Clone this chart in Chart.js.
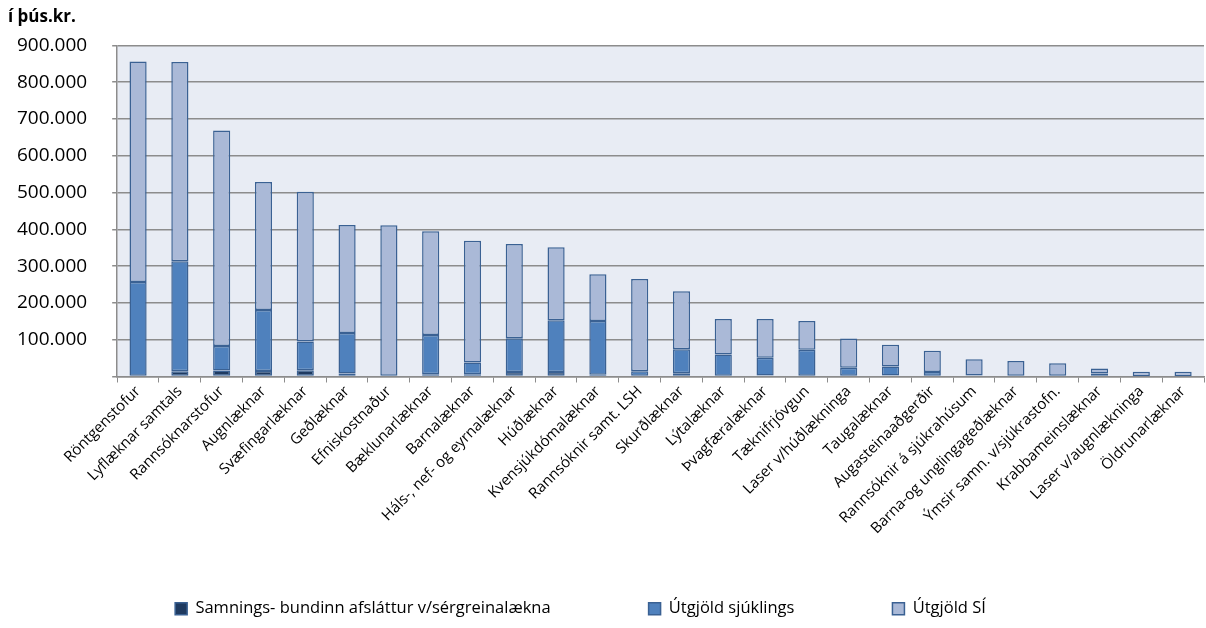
<!DOCTYPE html>
<html lang="is">
<head>
<meta charset="utf-8">
<title>Útgjöld eftir sérgreinum</title>
<script src="https://cdn.jsdelivr.net/npm/chart.js@4.4.1/dist/chart.umd.min.js"></script>
<style>
  html, body { margin: 0; padding: 0; background: #fff; }
  #wrap { width: 1206px; height: 628px; position: relative; }
</style>
</head>
<body>
<div id="wrap"><canvas id="costChart"></canvas></div>
<script>
// categories, in the order they appear on the x axis
const categories = [
  'Röntgenstofur', 'Lyflæknar samtals', 'Rannsóknarstofur', 'Augnlæknar',
  'Svæfingarlæknar', 'Geðlæknar', 'Efniskostnaður', 'Bæklunarlæknar',
  'Barnalæknar', 'Háls-, nef- og eyrnalæknar', 'Húðlæknar', 'Kvensjúkdómalæknar',
  'Rannsóknir samt. LSH', 'Skurðlæknar', 'Lýtalæknar', 'Þvagfæralæknar',
  'Tæknifrjóvgun', 'Laser v/húðlækninga', 'Taugalæknar', 'Augasteinaaðgerðir',
  'Rannsóknir á sjúkrahúsum', 'Barna-og unglingageðlæknar', 'Ýmsir samn. v/sjúkrastofn.',
  'Krabbameinslæknar', 'Laser v/augnlækninga', 'Öldrunarlæknar'
];

// series values (þús.kr.)
const afslattur = [0, 14000, 16000, 15000, 17000, 8000, 0, 6000, 6000, 12000, 12000, 5000, 0,
  9000, 2000, 3000, 0, 0, 3000, 0, 0, 0, 0, 0, 0, 0];
const sjuklingur = [257000, 299000, 67000, 166000, 78000, 110000, 0, 107000, 32000, 92000, 141000, 146000, 14000,
  65000, 58000, 48000, 73000, 24000, 24000, 12000, 3000, 2000, 0, 8000, 1000, 1000];
const sjukratr = [599000, 542000, 586000, 348000, 407000, 294000, 411000, 282000, 331000, 256000, 198000, 127000, 251000,
  158000, 96000, 105000, 78000, 79000, 59000, 58000, 44000, 40000, 36000, 14000, 12000, 12000];

const seriesNames = ['Samnings- bundinn afsláttur v/sérgreinalækna', 'Útgjöld sjúklings', 'Útgjöld SÍ'];

// y axis
const yMax = 900000;
const yStep = 100000;

(function () {
  'use strict';

  const FONT = "'Open Sans', 'Noto Sans', sans-serif";
  const LEGEND_PAD = 98;   // horizontal gap between legend items
  const LEGEND_TRIM = 35;  // height labels.padding adds that we don't want

  // thousands separator with a dot, blank at zero
  function fmt(v) {
    if (v === 0) return '';
    return String(v).replace(/\B(?=(\d{3})+(?!\d))/g, '.');
  }

  // light plot background like the spreadsheet chart
  const plotBg = {
    id: 'plotBg',
    beforeDraw(chart) {
      const { ctx, chartArea: a } = chart;
      ctx.save();
      ctx.fillStyle = '#E8ECF4';
      ctx.fillRect(a.left, a.top, a.right - a.left, a.bottom - a.top);
      ctx.restore();
    }
  };

  // wide gaps between legend items, without the extra vertical room
  // that labels.padding also reserves; legend also sits left of centre.
  // title is pulled back to the page edge (layout padding is for the y labels)
  const boxFix = {
    id: 'boxFix',
    beforeLayout(chart) {
      const lg = chart.legend;
      if (!lg || lg._trimmed) return;
      const fit = lg.fit;
      lg.fit = function () {
        fit.call(this);
        this.height -= LEGEND_TRIM;
      };
      lg._trimmed = true;
    },
    afterLayout(chart) {
      const lg = chart.legend;
      if (lg) {
        lg.top -= LEGEND_TRIM;   // bottom stays, the legend clips to its box
        lg.left -= 30;
        lg.right -= 30;
      }
      const tb = chart.titleBlock;
      if (tb) {
        tb.left -= 9;
        tb.right -= 9;
      }
    }
  };

  function ds(label, data, fill) {
    return {
      label: label,
      data: data,
      backgroundColor: fill,
      borderColor: '#3A6193',
      borderWidth: 1.5,
      borderSkipped: false,
      categoryPercentage: 1,
      barPercentage: 0.41
    };
  }

  new Chart(document.getElementById('costChart').getContext('2d'), {
    type: 'bar',
    data: {
      labels: categories,
      datasets: [
        ds(seriesNames[0], afslattur, '#1F3A60'),
        ds(seriesNames[1], sjuklingur, '#4F81BD'),
        ds(seriesNames[2], sjukratr, '#AAB9D7')
      ]
    },
    options: {
      responsive: true,
      maintainAspectRatio: false,
      animation: false,
      layout: { padding: { left: 17, right: 2, top: 4, bottom: 1 } },
      plugins: {
        title: {
          display: true,
          text: 'í þús.kr.',
          align: 'start',
          color: '#000',
          font: { family: FONT, size: 17, weight: 'bold' },
          padding: { top: 3, bottom: 18 }
        },
        legend: {
          position: 'bottom',
          labels: {
            color: '#000',
            font: { family: FONT, size: 16.5 },
            boxWidth: 12,
            boxHeight: 12,
            padding: LEGEND_PAD
          }
        },
        tooltip: { enabled: false }
      },
      scales: {
        x: {
          stacked: true,
          grid: {
            display: true,
            drawOnChartArea: false,
            drawTicks: true,
            tickLength: 6,
            color: '#8C8C8C',
            offset: true
          },
          border: { color: '#8C8C8C', width: 1.5 },
          ticks: {
            color: '#000',
            font: { family: FONT, size: 15 },
            autoSkip: false,
            minRotation: 45,
            maxRotation: 45,
            padding: 0
          }
        },
        y: {
          stacked: true,
          min: 0,
          max: yMax,
          grid: {
            color: '#8C8C8C',
            lineWidth: 1.5,
            tickLength: 5
          },
          border: { color: '#8C8C8C', width: 1.5 },
          ticks: {
            stepSize: yStep,
            color: '#000',
            font: { family: FONT, size: 19 },
            padding: 12.5,
            crossAlign: 'far',
            callback: fmt
          }
        }
      }
    },
    plugins: [plotBg, boxFix]
  });
})();
</script>
</body>
</html>
